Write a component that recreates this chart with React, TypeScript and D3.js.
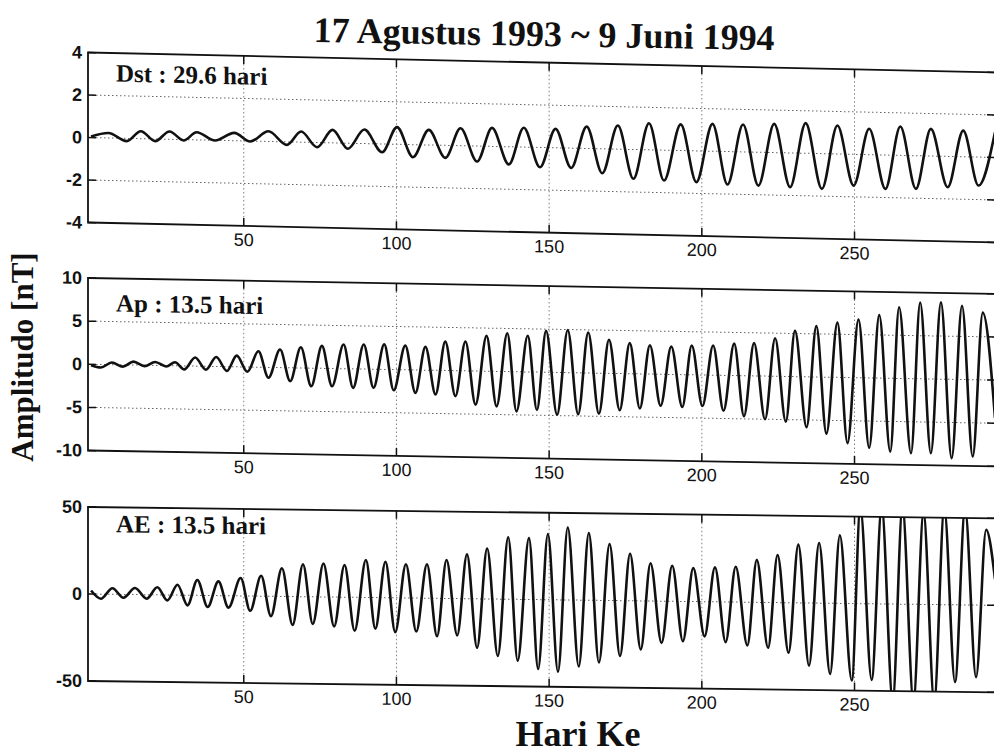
import React from "react";
import * as d3 from "d3";

// ---------- data ----------
const dayTicks = [50, 100, 150, 200, 250];
const dstTicks = [-4, -2, 0, 2, 4];
const apTicks = [-10, -5, 0, 5, 10];
const aeTicks = [-50, 0, 50];

const titleText = "17 Agustus 1993 ~ 9 Juni 1994";
const xLabel = "Hari Ke";
const yLabel = "Amplitudo [nT]";
const panelLabels = ["Dst : 29.6 hari", "Ap : 13.5 hari", "AE : 13.5 hari"];

// extrema (day, value) of each filtered series
const dstDays = [0, 5.7, 11.7, 16.3, 21.0, 25.7, 30.3, 34.6, 40.6, 46.9, 52.1, 58.1, 64.1, 68.8, 74.0, 79.1, 84.1, 89.5, 95.3, 100.2, 105.4, 110.6, 116.0, 121.0, 126.4, 131.3, 136.8, 141.7, 147.0, 152.1, 157.2, 162.3, 167.4, 172.5, 177.6, 182.7, 187.6, 193.1, 198.2, 203.5, 208.4, 213.5, 218.5, 223.7, 228.9, 234.0, 239.3, 244.4, 249.7, 254.8, 260.1, 265.0, 270.1, 275.0, 280.5, 285.6, 290.6, 296.0];
const dstValues = [0.05, 0.23, -0.13, 0.35, -0.1, 0.37, -0.04, 0.36, -0.01, 0.37, -0.02, 0.48, -0.14, 0.5, -0.22, 0.61, -0.26, 0.66, -0.39, 0.81, -0.59, 0.71, -0.59, 0.82, -0.73, 0.87, -0.83, 0.91, -0.93, 0.89, -0.93, 1.03, -1.15, 1.11, -1.38, 1.25, -1.43, 1.23, -1.47, 1.29, -1.55, 1.29, -1.57, 1.35, -1.61, 1.42, -1.66, 1.34, -1.47, 1.22, -1.59, 1.36, -1.56, 1.28, -1.45, 1.23, -1.34, 1.19];

const apDays = [0, 3.2, 6.8, 10.4, 13.9, 17.5, 21.0, 24.6, 27.5, 30.5, 34.1, 37.6, 41.0, 44.5, 47.7, 51.2, 54.8, 58.1, 61.9, 65.2, 68.7, 72.1, 75.6, 78.9, 82.7, 85.8, 89.3, 92.5, 96.0, 99.1, 102.9, 106.2, 109.5, 112.8, 116.0, 119.3, 122.6, 125.9, 129.5, 132.8, 136.3, 139.3, 143.0, 146.0, 149.0, 152.6, 156.1, 159.5, 162.8, 166.3, 169.6, 173.1, 176.4, 179.7, 183.0, 186.5, 190.0, 193.6, 196.7, 200.2, 203.7, 207.1, 210.6, 213.8, 217.1, 220.7, 224.0, 227.5, 230.5, 234.3, 237.5, 240.8, 244.4, 247.7, 251.3, 254.8, 258.1, 261.7, 264.6, 268.5, 271.5, 275.0, 278.3, 281.8, 285.2, 288.7, 292.0, 296.0];
const apValues = [-0.1, -0.35, 0.25, -0.2, 0.4, -0.1, 0.4, -0.1, 0.4, -0.4, 1.0, -0.4, 1.1, -0.5, 1.3, -0.55, 1.85, -1.2, 2.1, -1.55, 2.4, -2.1, 2.6, -2.05, 2.8, -2.2, 2.85, -2.15, 2.9, -2.4, 2.8, -2.65, 2.7, -2.8, 3.35, -2.95, 3.4, -3.9, 4.1, -4.05, 4.45, -4.6, 4.2, -4.4, 4.8, -4.9, 4.95, -4.8, 4.7, -4.7, 3.9, -4.25, 3.55, -4.0, 3.35, -3.65, 3.25, -3.75, 3.4, -3.6, 3.45, -4.1, 3.7, -4.7, 3.8, -5.0, 4.4, -5.25, 5.3, -5.85, 5.9, -6.55, 6.35, -7.6, 6.75, -8.1, 7.3, -8.5, 8.25, -8.65, 8.85, -8.6, 8.9, -9.15, 8.55, -8.9, 7.8, -4.4];

const aeDays = [0, 3.2, 7.0, 10.6, 14.4, 18.2, 21.7, 25.0, 28.3, 31.6, 34.8, 38.2, 41.7, 45.0, 49.0, 52.1, 55.7, 58.9, 62.5, 66.0, 69.4, 72.6, 76.1, 79.6, 83.0, 86.3, 90.0, 93.1, 96.4, 99.6, 103.1, 106.5, 110.0, 113.3, 116.4, 119.9, 123.1, 126.4, 129.7, 133.2, 136.6, 139.7, 143.4, 146.4, 149.6, 152.9, 156.1, 159.7, 163.0, 166.3, 169.8, 173.2, 176.5, 180.0, 183.2, 186.8, 190.3, 193.8, 197.2, 200.9, 204.3, 207.8, 211.1, 214.9, 218.0, 221.7, 224.8, 228.4, 231.6, 235.1, 238.4, 242.0, 245.2, 249.1, 251.9, 255.6, 258.9, 262.5, 265.7, 269.3, 272.6, 276.1, 279.4, 282.9, 286.2, 289.8, 293.1, 296.0];
const aeValues = [2.0, -2.6, 3.5, -1.9, 3.8, -2.3, 4.4, -3.1, 6.0, -5.8, 8.8, -6.6, 8.2, -6.8, 10.3, -8.5, 11.7, -11.4, 16.2, -16.3, 18.6, -15.6, 19.2, -16.9, 18.5, -19.2, 21.5, -17.9, 20.7, -19.7, 19.4, -19.2, 19.5, -21.8, 22.1, -21.1, 25.5, -28.1, 29.0, -32.7, 35.6, -35.3, 35.3, -39.9, 37.7, -41.3, 41.7, -38.1, 38.6, -35.7, 32.5, -31.8, 27.0, -27.9, 21.7, -24.0, 20.4, -22.9, 19.2, -19.9, 19.8, -23.1, 20.3, -24.8, 24.4, -26.0, 27.4, -28.7, 33.5, -36.0, 34.6, -40.6, 39.1, -44.2, 55, -43.7, 55, -55, 55, -55, 52, -55, 55, -44.4, 55, -41.4, 43.4, 15];

// ---------- layout ----------
const W = 994;
const H = 753;
const X0 = 88;
const X1 = 995;

const panels = [
  { top: 52.5, bottom: 222.5, skew: 0.022, domain: [-4, 4], ticks: dstTicks, label: panelLabels[0], labelY: 81, days: dstDays, values: dstValues },
  { top: 278, bottom: 450.5, skew: 0.0175, domain: [-10, 10], ticks: apTicks, label: panelLabels[1], labelY: 311, days: apDays, values: apValues },
  { top: 507, bottom: 681, skew: 0.0125, domain: [-50, 50], ticks: aeTicks, label: panelLabels[2], labelY: 532, days: aeDays, values: aeValues },
];

const x = d3.scaleLinear().domain([-1, 296]).range([X0, X1]);

const sans = "'Liberation Sans', Arial, sans-serif";
const serif = "'Liberation Serif', 'Times New Roman', serif";

function Panel({ p, i }: { p: (typeof panels)[number]; i: number }) {
  const y = d3.scaleLinear().domain(p.domain).range([p.bottom, p.top]);
  const pts = p.days.map((d, j) => [d, p.values[j]] as [number, number]);
  const line = d3
    .line<[number, number]>()
    .x((d) => x(d[0]))
    .y((d) => y(d[1]))
    .curve(d3.curveMonotoneX);
  const k = p.skew;
  const tl = 8;
  return (
    <g transform={`matrix(1,${k},0,1,0,${-k * X0})`}>
      <defs>
        <clipPath id={`clip${i}`}>
          <rect x={X0} y={p.top} width={X1 - X0} height={p.bottom - p.top} />
        </clipPath>
      </defs>
      {p.ticks
        .filter((t) => t !== p.domain[0] && t !== p.domain[1])
        .map((t) => (
          <line key={`gy${t}`} x1={X0} x2={X1} y1={y(t)} y2={y(t)} stroke="#666" strokeWidth={1} strokeDasharray="1.5,2.5" />
        ))}
      {dayTicks.map((d) => (
        <line key={`gx${d}`} x1={x(d)} x2={x(d)} y1={p.top} y2={p.bottom} stroke="#8a7a7a" strokeWidth={1} strokeDasharray="1.5,2.5" />
      ))}
      <path d={line(pts) || ""} fill="none" stroke="#111" strokeWidth={2.6} strokeLinejoin="round" clipPath={`url(#clip${i})`} />
      <rect x={X0} y={p.top} width={X1 - X0} height={p.bottom - p.top} fill="none" stroke="#111" strokeWidth={1.8} />
      {p.ticks.map((t) => (
        <g key={`ty${t}`}>
          <line x1={X0} x2={X0 + tl} y1={y(t)} y2={y(t)} stroke="#111" strokeWidth={1.5} />
          <line x1={X1 - tl} x2={X1} y1={y(t)} y2={y(t)} stroke="#111" strokeWidth={1.5} />
          <text x={X0 - 6} y={y(t) + 6} textAnchor="end" fontFamily={sans} fontWeight="bold" fontSize={18} fill="#111">
            {t}
          </text>
        </g>
      ))}
      {dayTicks.map((d) => (
        <g key={`tx${d}`}>
          <line x1={x(d)} x2={x(d)} y1={p.bottom} y2={p.bottom - tl} stroke="#111" strokeWidth={1.5} />
          <line x1={x(d)} x2={x(d)} y1={p.top} y2={p.top + tl} stroke="#111" strokeWidth={1.5} />
          <text x={x(d)} y={p.bottom + 20} textAnchor="middle" fontFamily={sans} fontSize={18} fill="#111">
            {d}
          </text>
        </g>
      ))}
      <text x={116} y={p.labelY} fontFamily={serif} fontWeight="bold" fontSize={25} fill="#111">
        {p.label}
      </text>
    </g>
  );
}

export default function App() {
  return (
    <svg width={W} height={H} style={{ position: "absolute", left: 0, top: 0, background: "#fff" }}>
      <rect x={0} y={0} width={W} height={H} fill="#fff" />
      <text x={544} y={46} textAnchor="middle" fontFamily={serif} fontWeight="bold" fontSize={36} fill="#111" transform="rotate(1 544 46)">
        {titleText}
      </text>
      {panels.map((p, i) => (
        <Panel key={i} p={p} i={i} />
      ))}
      <text transform="translate(33 357) rotate(-90)" textAnchor="middle" fontFamily={serif} fontWeight="bold" fontSize={31} fill="#111">
        {yLabel}
      </text>
      <text x={578} y={746} textAnchor="middle" fontFamily={serif} fontWeight="bold" fontSize={36} fill="#111">
        {xLabel}
      </text>
    </svg>
  );
}
